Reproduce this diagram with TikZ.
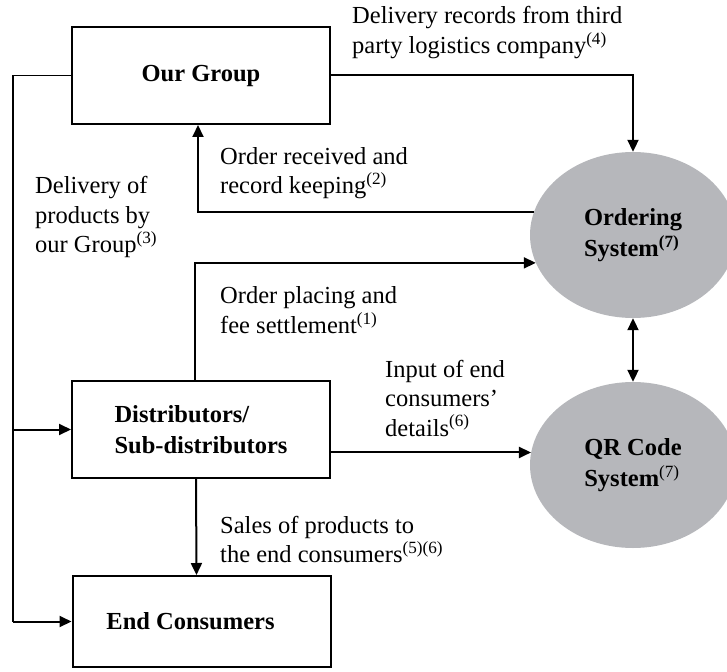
\documentclass[tikz,border=0pt]{standalone}
\usepackage{fontspec}
\setmainfont{Liberation Serif}
\usetikzlibrary{arrows.meta,shapes.geometric,calc}
\definecolor{sysgray}{RGB}{182,183,187}
\begin{document}
\begin{tikzpicture}[x=1pt,y=-1pt,
  every node/.style={font=\fontsize{24.5}{29.5}\selectfont},
  box/.style={draw, line width=2pt, minimum width=258pt, minimum height=97pt,
    inner sep=0pt, font=\fontsize{24.5}{31}\selectfont\bfseries, align=left},
  sys/.style={ellipse, fill=sysgray, minimum width=206pt, minimum height=166pt,
    inner sep=0pt, font=\fontsize{24.5}{31}\selectfont\bfseries, align=left},
  tip/.tip={Triangle[length=12pt,width=11pt]},
  flow/.style={line width=2pt, -tip},
  rail/.style={line width=1.2pt},
  note/.style={align=left, inner sep=0pt, anchor=west}]
\useasboundingbox (0,0) rectangle (727,671);

% entities
\node[box] (grp) at (201,75.5) {Our Group};
\node[box] (dist) at (201,429.5) {Distributors/\\Sub-distributors};
\node[box, minimum height=91pt] (endc) at (201.5,621.5) {End Consumers\hspace*{22pt}};
\node[sys] (ord) at (633,235) {Ordering\\System\textsuperscript{(7)}};
\node[sys] (qr) at (633,465) {QR Code\\System{\mdseries\textsuperscript{(7)}}};

% delivery rail on the left
\coordinate (rl) at (13,75.5);
\draw[rail] (grp.west) -- (rl) -- (rl |- endc.west);
\draw[flow] (rl |- dist.west) -- (dist.west);
\draw[flow] (rl |- endc.west) -- (endc.west);

% flows between entities and systems
\draw[flow] (grp.east) -| (ord.north);
\draw[flow] (ord.167) -| ($(grp.south)+(-3,0)$);
\draw[flow] ($(dist.north)+(-6,0)$) |- (ord.196);
\draw[flow] (qr.173 -| dist.east) -- (qr.173);
\draw[line width=2pt, tip-tip] (ord.south) -- (qr.north);
\draw[flow] ($(dist.south)+(-5,0)$) -- ($(endc.north)+(-5,0)$);

% flow labels
\node[note] (n4) at (352,32.5) {Delivery records from third\\party logistics company\textsuperscript{(4)}};
\node[note] (n2) at (220,173) {Order received and\\record keeping\textsuperscript{(2)}};
\node[note] (n3) at (35,217) {Delivery of\\products by\\our Group\textsuperscript{(3)}};
\node[note] (n1) at (220,310) {Order placing and\\fee settlement\textsuperscript{(1)}};
\node[note] (n6) at (385,398) {Input of end\\consumers’\\details\textsuperscript{(6)}};
\node[note] (n5) at (220,539.5) {Sales of products to\\the end consumers\textsuperscript{(5)(6)}};
\end{tikzpicture}
\end{document}
